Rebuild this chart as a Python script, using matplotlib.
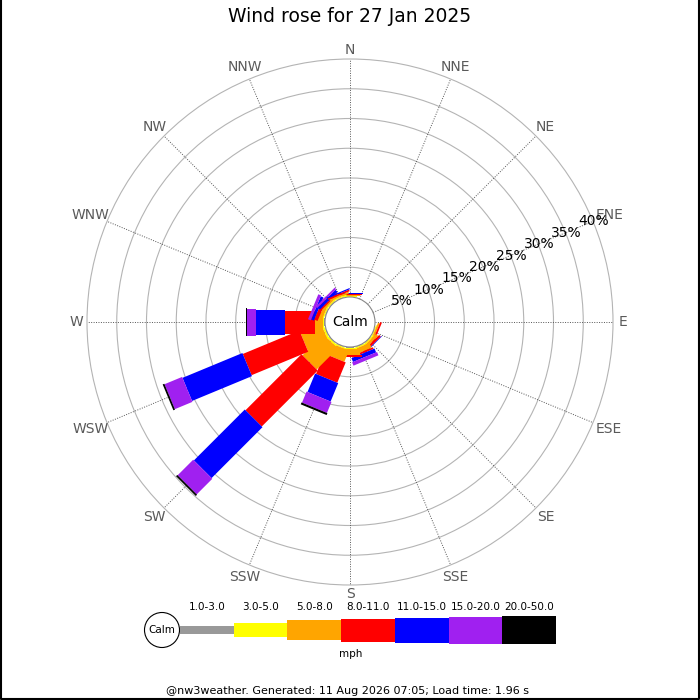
import numpy as np
import matplotlib
matplotlib.use('Agg')
import matplotlib.pyplot as plt
from matplotlib.patches import Polygon, Circle, Rectangle

plt.rcParams['font.family'] = ['DejaVu Sans']

directions = ['N', 'NNE', 'NE', 'ENE', 'E', 'ESE', 'SE', 'SSE',
              'S', 'SSW', 'SW', 'WSW', 'W', 'WNW', 'NW', 'NNW']
bands = ['1.0-3.0', '3.0-5.0', '5.0-8.0', '8.0-11.0', '11.0-15.0', '15.0-20.0', '20.0-50.0']
band_colors = ['#999999', '#ffff00', '#ffa500', '#ff0000', '#0000ff', '#a020f0', '#000000']
band_widths = [8, 14, 20, 23, 25, 27, 28]

# percent of time per direction, one list per speed band
pct_1_3 = [0.05, 0, 0, 0, 0, 0.05, 0.1, 0.1, 0.1, 0.1, 0.1, 0.1, 0.1, 0.1, 0.1, 0.1]
pct_3_5 = [0.1, 0, 0, 0, 0, 0.15, 0.2, 0.2, 0.2, 0.2, 0.3, 0.3, 0.2, 0.2, 0.2, 0.2]
pct_5_8 = [0.2, 0, 0, 0, 0, 0.3, 0.5, 0.9, 1.1, 2.05, 5.0, 3.8, 1.4, 0.6, 0.3, 0.3]
pct_8_11 = [0.2, 0, 0, 0, 0, 0.3, 0.4, 0.3, 0.2, 3.7, 13.3, 10.3, 5.0, 0.6, 0.25, 0.3]
pct_11_15 = [0.2, 0, 0, 0, 0, 0, 0.1, 0.7, 0, 3.35, 12.1, 10.9, 4.9, 0.5, 0.5, 0.2]
pct_15_20 = [0, 0, 0, 0, 0, 0, 0, 0.6, 0, 2.0, 3.7, 3.2, 1.5, 0.5, 0.35, 0]
pct_20_50 = [0, 0, 0, 0, 0, 0, 0, 0, 0, 0.35, 0.3, 0.3, 0.25, 0, 0, 0]

ring_pcts = [5, 10, 15, 20, 25, 30, 35, 40]
title = 'Wind rose for 27 Jan 2025'
footer = '@nw3weather. Generated: 11 Aug 2026 07:05; Load time: 1.96 s'

cx, cy = 350, 322
calm_r = 25
px_per_pct = 5.95


def radius(p):
    return calm_r + px_per_pct * p


def leg_poly(theta, r0, r1, w):
    u = np.array([np.sin(theta), -np.cos(theta)])
    v = np.array([np.cos(theta), np.sin(theta)])
    c = np.array([cx, cy])
    h = w / 2
    return [c + u * r0 - v * h, c + u * r1 - v * h, c + u * r1 + v * h, c + u * r0 + v * h]


fig = plt.figure(figsize=(7, 7), dpi=100)
ax = fig.add_axes([0, 0, 1, 1])
ax.set_xlim(0, 700)
ax.set_ylim(700, 0)
ax.set_aspect('equal')
ax.axis('off')

# rings and spokes
for p in ring_pcts:
    ax.add_patch(Circle((cx, cy), radius(p), fill=False, ec='#b4b4b4', lw=0.8, zorder=1))
angles = np.deg2rad(np.arange(16) * 22.5)
r_out = radius(ring_pcts[-1])
for th in angles:
    ax.plot([cx + calm_r * np.sin(th), cx + r_out * np.sin(th)],
            [cy - calm_r * np.cos(th), cy - r_out * np.cos(th)],
            ls=(0, (1, 1.5)), color='#555555', lw=0.7, zorder=1)

# compass labels
for name, th in zip(directions, angles):
    rl = 270 + 3.5 * len(name) * abs(np.sin(th)) + 2 * abs(np.cos(th))
    ax.text(cx + rl * np.sin(th), cy - rl * np.cos(th), name, ha='center', va='center',
            fontsize=10, color='#5a5a5a')

# legs
data = np.array([pct_1_3, pct_3_5, pct_5_8, pct_8_11, pct_11_15, pct_15_20, pct_20_50])
cum = np.cumsum(data, axis=0)
for i, th in enumerate(angles):
    start = 0.0
    for b in range(len(bands)):
        end = cum[b, i]
        if end > start:
            ax.add_patch(Polygon(leg_poly(th, radius(start), radius(end), band_widths[b]),
                                 closed=True, fc=band_colors[b], ec='none', zorder=2))
        start = end

# calm circle
ax.add_patch(Circle((cx, cy), calm_r, fc='white', ec='#888888', lw=0.8, zorder=3))
ax.text(cx, cy, 'Calm', ha='center', va='center', fontsize=10, zorder=4)

# percent labels along ENE
th_lab = np.deg2rad(67.5)
for p in ring_pcts:
    r = radius(p)
    ax.text(cx + r * np.sin(th_lab) + 1, cy - r * np.cos(th_lab), f'{p}%', ha='center', va='center',
            fontsize=10, zorder=4)

ax.text(350, 17, title, ha='center', va='center', fontsize=13.5)

# legend
lx0, lseg, ly = 180, 53.7, 630
ax.add_patch(Circle((162, ly), 17.5, fc='white', ec='black', lw=0.8))
ax.text(162, ly, 'Calm', ha='center', va='center', fontsize=7.5)
for b in range(len(bands)):
    x0 = lx0 + b * lseg
    w = band_widths[b]
    ax.add_patch(Rectangle((x0, ly - w / 2), lseg, w, fc=band_colors[b], ec='none'))
    ax.text(x0 + lseg / 2, 607, bands[b], ha='center', va='center', fontsize=7.5)
ax.text(351, 654, 'mph', ha='center', va='center', fontsize=7.5)

ax.text(348, 691, footer, ha='center', va='center', fontsize=8)

# frame
ax.plot([0.5, 0.5, 699, 699], [0, 699, 699, 0], color='black', lw=1.5, clip_on=False)

fig.savefig('out.png', dpi=100)
